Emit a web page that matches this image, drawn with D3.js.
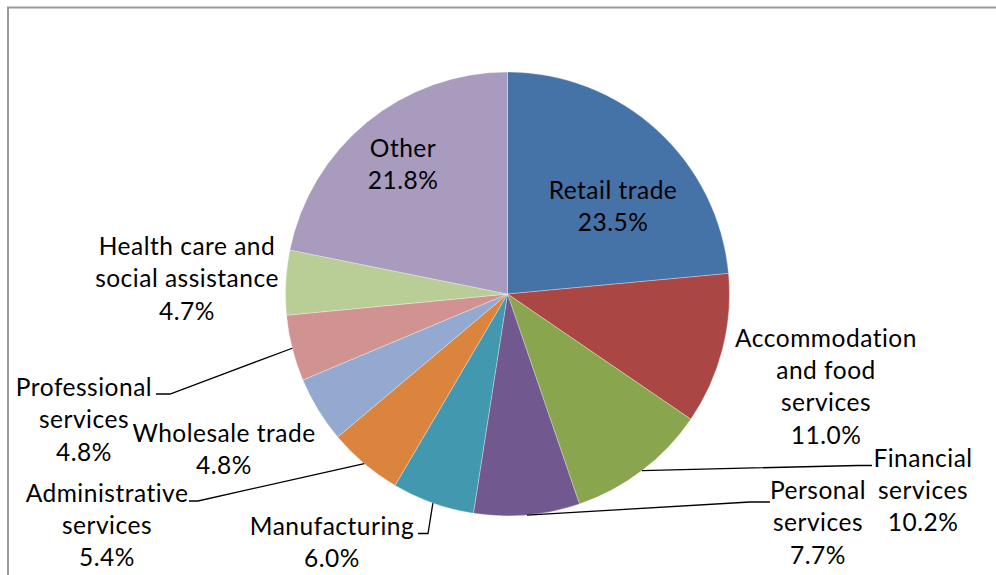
<!DOCTYPE html>
<html>
<head>
<meta charset="utf-8">
<script src="https://cdn.jsdelivr.net/npm/d3@7"></script>
<style>
  html, body { margin: 0; padding: 0; background: #fff; }
  svg { display: block; }
  text { font-family: Lato, "Noto Sans", sans-serif; fill: #000; }
</style>
</head>
<body>
<svg id="chart" width="996" height="575"></svg>
<script>
// Share of businesses by industry (%)
const categories = [
  "Retail trade",
  "Accommodation and food services",
  "Financial services",
  "Personal services",
  "Manufacturing",
  "Administrative services",
  "Wholesale trade",
  "Professional services",
  "Health care and social assistance",
  "Other"
];
const values = [23.5, 11.0, 10.2, 7.7, 6.0, 5.4, 4.8, 4.8, 4.7, 21.8];
const colors = ["#4572A7", "#AA4643", "#89A54E", "#71588F", "#4198AF",
                "#DB843D", "#93A9CF", "#D19392", "#B9CD96", "#A99BBD"];

// Label text lines (category name broken into lines) and layout of each label
const labelLines = [
  ["Retail trade"],
  ["Accommodation", "and food", "services"],
  ["Financial", "services"],
  ["Personal", "services"],
  ["Manufacturing"],
  ["Administrative", "services"],
  ["Wholesale trade"],
  ["Professional", "services"],
  ["Health care and", "social assistance"],
  ["Other"]
];
// x: centre of the text block, y: first baseline,
// leader: points from the text edge toward the slice (the slice edge point is appended)
const labelLayout = [
  { x: 613, y: 198.5 },
  { x: 826, y: 346.7 },
  { x: 923, y: 466.7, leader: [[872, 465.5], [858, 465.5]] },
  { x: 818, y: 499,   leader: [[770, 502], [750, 502]] },
  { x: 332, y: 535,   leader: [[418, 533.5], [428, 533.5]] },
  { x: 107, y: 501.7, leader: [[189, 501], [198, 501]] },
  { x: 224, y: 441.7 },
  { x: 84,  y: 396,   leader: [[156, 394], [170, 394]] },
  { x: 187, y: 255 },
  { x: 403, y: 156.7 }
];

const W = 996, H = 575;
const cx = 507.5, cy = 294, R = 222;
const lineGap = 32.3;

const svg = d3.select("#chart");

// Chart frame
svg.append("rect")
  .attr("x", 8).attr("y", 7.5)
  .attr("width", W + 20).attr("height", H + 20)
  .attr("fill", "none")
  .attr("stroke", "#9a9a9a")
  .attr("stroke-width", 2);

const pie = d3.pie().sort(null).value(d => d)
  .startAngle(0).endAngle(2 * Math.PI);
const arcs = pie(values);

const arc = d3.arc().innerRadius(0).outerRadius(R);

const g = svg.append("g").attr("transform", `translate(${cx},${cy})`);

g.selectAll("path.slice")
  .data(arcs)
  .join("path")
  .attr("class", "slice")
  .attr("d", arc)
  .attr("fill", (d, i) => colors[i])
  .attr("stroke", "#ffffff")
  .attr("stroke-opacity", 0.5)
  .attr("stroke-width", 0.6);

// Leader lines to the slice edge midpoint
const edgePoint = d => {
  const a = (d.startAngle + d.endAngle) / 2;
  return [cx + R * Math.sin(a), cy - R * Math.cos(a)];
};

const line = d3.line();
arcs.forEach((d, i) => {
  const L = labelLayout[i];
  if (!L.leader) return;
  const pts = L.leader.concat([edgePoint(d)]);
  svg.append("path")
    .attr("d", line(pts))
    .attr("fill", "none")
    .attr("stroke", "#000")
    .attr("stroke-width", 1.3);
});

// Labels: category lines followed by the percentage
const fmt = d3.format(".1f");
arcs.forEach((d, i) => {
  const L = labelLayout[i];
  const lines = labelLines[i].concat([fmt(values[i]) + "%"]);
  const t = svg.append("text")
    .attr("text-anchor", "middle")
    .attr("font-size", 24.5)
    .attr("letter-spacing", 0.5);
  lines.forEach((s, k) => {
    t.append("tspan")
      .attr("x", L.x)
      .attr("y", L.y + k * lineGap)
      .text(s);
  });
});
</script>
</body>
</html>
